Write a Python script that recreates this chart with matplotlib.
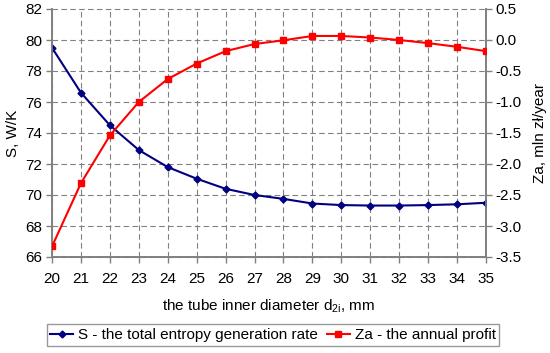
import matplotlib.pyplot as plt
from matplotlib.lines import Line2D

plt.rcParams["font.family"] = ["Liberation Sans", "DejaVu Sans"]

diameter = [20, 21, 22, 23, 24, 25, 26, 27, 28, 29, 30, 31, 32, 33, 34, 35]
entropy_s = [79.5, 76.6, 74.5, 72.9, 71.8, 71.05, 70.4, 70.0, 69.75, 69.45,
             69.35, 69.32, 69.32, 69.35, 69.4, 69.5]
profit_za = [-3.33, -2.31, -1.54, -1.0, -0.63, -0.38, -0.18, -0.065, -0.005,
             0.065, 0.065, 0.04, 0.0, -0.05, -0.11, -0.18]

s_ticks = [66, 68, 70, 72, 74, 76, 78, 80, 82]
za_ticks = [-3.5, -3.0, -2.5, -2.0, -1.5, -1.0, -0.5, 0.0, 0.5]

navy = "#000080"
red = "#FF0000"
spine_col = "#808080"
grid_col = "#808080"
fs = 11

fig = plt.figure(figsize=(5.5, 3.53), dpi=100)
ax = fig.add_axes([52 / 550, 1 - 257 / 353, 434 / 550, 248 / 353])
ax2 = ax.twinx()

ax.plot(diameter, entropy_s, color=navy, marker="D", markersize=3.5,
        linewidth=1.5, zorder=4)
ax2.plot(diameter, profit_za, color=red, marker="s", markersize=5,
         linewidth=1.5, zorder=4)

ax.set_xlim(20, 35)
ax.set_ylim(66, 82)
ax2.set_ylim(-3.5, 0.5)
ax.set_xticks(diameter)
ax.set_yticks(s_ticks)
ax2.set_yticks(za_ticks)
ax2.set_yticklabels([f"{v:.1f}" for v in za_ticks])

ax.grid(True, color=grid_col, linestyle=(0, (5, 3)), linewidth=0.8)
ax.set_axisbelow(True)
for gl in ax.get_ygridlines():
    gl.set_clip_on(False)

for a in (ax, ax2):
    a.spines["top"].set_visible(False)
    for side in ("left", "right", "bottom"):
        a.spines[side].set_color(spine_col)
        a.spines[side].set_linewidth(1.2)
    a.tick_params(axis="both", direction="out", length=4, width=1,
                  color=spine_col, labelsize=fs, pad=3)

ax.tick_params(axis="x", pad=7)
ax.set_xlabel("the tube inner diameter d$_{\\mathregular{2i}}$, mm",
              fontsize=fs, labelpad=8)
ax.set_ylabel("S, W/K", fontsize=fs, labelpad=4)
ax2.set_ylabel("Za, mln zł/year", fontsize=fs, labelpad=8)

handles = [
    Line2D([0], [0], color=navy, marker="D", markersize=3.5, linewidth=1.5,
           label="S - the total entropy generation rate"),
    Line2D([0], [0], color=red, marker="s", markersize=4, linewidth=1.5,
           label="Za - the annual profit"),
]
fig.legend(handles=handles, loc="center", bbox_to_anchor=(273 / 550, 1 - 335 / 353),
           ncol=2, frameon=True, fancybox=False, edgecolor="#808080",
           fontsize=fs, handlelength=1.5, handletextpad=0.3,
           columnspacing=0.6, borderpad=0.25, borderaxespad=0)

fig.savefig("out.png", dpi=100)
